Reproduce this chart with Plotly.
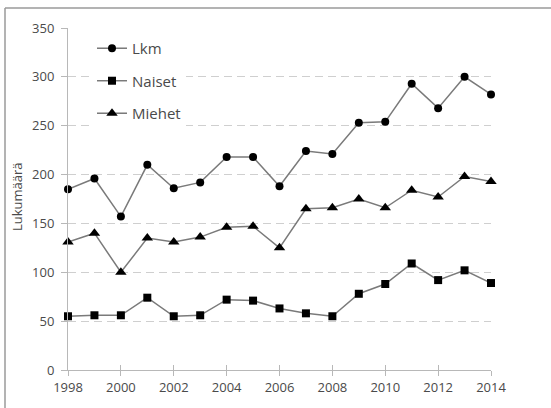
import plotly.graph_objects as go

# Annual counts, 1998-2014
years = list(range(1998, 2015))
lkm = [185, 196, 157, 210, 186, 192, 218, 218, 188, 224, 221, 253, 254, 293, 268, 300, 282]
naiset = [55, 56, 56, 74, 55, 56, 72, 71, 63, 58, 55, 78, 88, 109, 92, 102, 89]
miehet = [131, 140, 100, 135, 131, 136, 146, 147, 125, 165, 166, 175, 166, 184, 177, 198, 193]

series = [
    ("Lkm", lkm, "circle", 8),
    ("Naiset", naiset, "square", 8),
    ("Miehet", miehet, "triangle-up", 10),
]

FONT = "Open Sans, Lato, sans-serif"
TEXT = "#4a4a4a"
AXIS = "#b8b8b8"

fig = go.Figure()
for i, (name, vals, sym, size) in enumerate(series):
    fig.add_trace(go.Scatter(
        x=years, y=vals, name=name, mode="lines+markers",
        line=dict(color="#7a7a7a", width=1.5),
        marker=dict(symbol=sym, size=size, color="black"),
        cliponaxis=False,
        legendgroup=f"g{i}",
    ))

# Plot-area geometry in pixels
W, H = 551, 408
L, T = 68, 28
PW, PH = 423, 344

fig.update_layout(
    width=W, height=H,
    margin=dict(l=L, r=W - L - PW, t=T, b=H - T - PH),
    paper_bgcolor="white", plot_bgcolor="white",
    font=dict(family=FONT, size=13, color=TEXT),
    showlegend=True,
    legend=dict(
        x=(92 - L) / PW, xanchor="left",
        y=(T + PH - 32) / PH, yanchor="top",
        bgcolor="white", borderwidth=0,
        traceorder="grouped", tracegroupgap=10,
        font=dict(size=15, color=TEXT),
        itemwidth=30,
    ),
    xaxis=dict(
        range=[1998, 2014], tickmode="array",
        tickvals=list(range(1998, 2015, 2)),
        ticks="outside", ticklen=5, tickcolor=AXIS, tickwidth=1,
        showline=True, linecolor=AXIS, linewidth=1,
        showgrid=False, zeroline=False,
        tickfont=dict(size=13, color=TEXT),
    ),
    xaxis2=dict(
        range=[1998, 2014], overlaying="x", side="bottom",
        tickmode="array", tickvals=list(range(1998, 2015, 2)),
        ticks="inside", ticklen=5, tickcolor=AXIS, tickwidth=1,
        showticklabels=False, showline=False, showgrid=False, zeroline=False,
    ),
    yaxis=dict(
        range=[0, 350], tickmode="array", tickvals=list(range(0, 351, 50)),
        ticks="outside", ticklen=6, tickcolor=AXIS, tickwidth=1,
        showline=True, linecolor=AXIS, linewidth=1,
        showgrid=True, gridcolor="#cfcfcf", griddash="8px,5px", gridwidth=1,
        zeroline=False, ticklabelstandoff=4,
        tickfont=dict(size=13, color=TEXT),
    ),
    annotations=[dict(
        text="Lukumäärä", textangle=-90, showarrow=False,
        xref="paper", yref="paper",
        x=(17 - L) / PW, y=(T + PH - 198) / PH, xanchor="center", yanchor="middle",
        font=dict(size=13, color=TEXT),
    )],
    shapes=[
        dict(type="line", xref="paper", yref="paper",
             x0=(5 - L) / PW, x1=(W + 10 - L) / PW,
             y0=(T + PH - 8) / PH, y1=(T + PH - 8) / PH,
             line=dict(color="#9a9a9a", width=1.5)),
        dict(type="line", xref="paper", yref="paper",
             x0=(5 - L) / PW, x1=(5 - L) / PW,
             y0=(T + PH - 8) / PH, y1=(T + PH - H - 10) / PH,
             line=dict(color="#9a9a9a", width=1.5)),
    ],
)

# hidden trace so the overlay axis carrying the upward ticks is drawn
fig.add_trace(go.Scatter(x=[None], y=[None], xaxis="x2", showlegend=False, hoverinfo="skip"))

fig.write_html("out.html")
